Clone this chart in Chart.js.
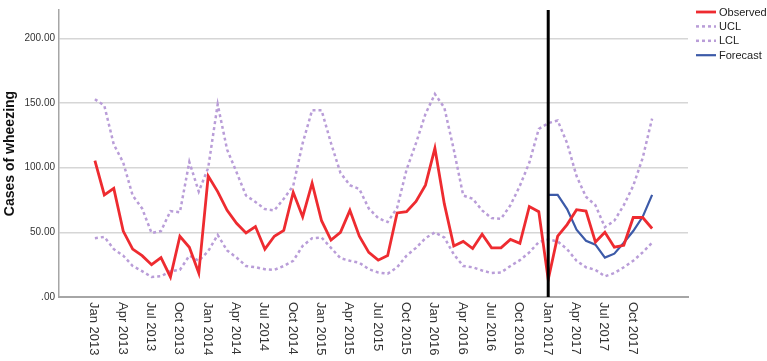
<!DOCTYPE html>
<html>
<head>
<meta charset="utf-8">
<script src="https://cdn.jsdelivr.net/npm/chart.js@4/dist/chart.umd.min.js"></script>
<style>
  html, body { margin: 0; padding: 0; background: #fff; }
  #wrap { width: 767px; height: 361px; position: relative; }
</style>
</head>
<body>
<div id="wrap"><canvas id="grafica"></canvas></div>
<script>
// months Jan 2013 .. Dec 2017 (index 0..59)
const months = ['Jan','Feb','Mar','Apr','May','Jun','Jul','Aug','Sep','Oct','Nov','Dec'];
const startYear = 2013;
const tickEvery = 3;
const cutover = 48; // Jan 2017

const observed = [105.5, 79, 84, 51, 37, 32, 25, 30.5, 15.5, 47, 38.5, 18.5,
  93.5, 81.5, 67, 57, 49.5, 54.5, 37, 47, 51.5, 81, 62, 88,
  59, 44, 50, 67, 47, 34.5, 28.5, 32, 65, 66, 74, 86.5,
  115, 72, 39.5, 43, 37.5, 48.5, 38, 38, 44.5, 41.5, 70, 66,
  13.5, 47, 56, 67.5, 66.5, 42.5, 50, 38.5, 40, 61.5, 61.5, 53];

const ucl = [153, 148, 118, 104, 78.5, 68.5, 49.5, 51, 66.5, 65.5, 104.5, 81.5,
  100, 149, 114, 96.5, 78.5, 73.5, 68, 67, 76, 86, 119, 144.5,
  144.5, 119, 96, 86.5, 83.5, 68.5, 61, 58, 69, 98.5, 119, 141.5,
  157, 146.5, 114, 78.5, 76, 67, 61, 60.5, 71, 86, 104, 130,
  134.5, 136.5, 119, 93.5, 77.5, 71, 54, 59, 71, 86, 107.5, 138];

const lcl = [45.5, 46.5, 37, 32, 24, 20, 15.5, 16, 20, 21, 32, 28,
  35.5, 48, 36, 30.5, 24, 23, 21.5, 21, 24, 28, 39.5, 45.5,
  46, 38, 30, 28, 26.5, 21.5, 19, 18, 23, 32, 38, 45.5,
  50, 46, 33, 24, 23, 20.5, 18.5, 19, 24, 28.5, 34.5, 42.5,
  44.5, 43, 37, 28, 23, 21, 16, 18.5, 23, 28, 34.5, 42];

const forecast = [79, 79, 68, 52, 43.5, 40.5, 30.5, 33.5, 42, 51, 62, 79];

const yTicks = [0, 50, 100, 150, 200];

const toPoints = (arr, offset) => arr.map((v, i) => ({ x: i + offset, y: v }));
const monthLabel = i => months[i % 12] + ' ' + (startYear + Math.floor(i / 12));

const grafica = document.getElementById('grafica');

const dotted = {
  borderColor: '#b99dd8',
  borderWidth: 2.5,
  borderDash: [3, 3],
  pointRadius: 0,
  tension: 0,
  fill: false
};

// rotated month labels, cutover line and legend
const extras = {
  id: 'extras',
  afterDatasetsDraw(chart) {
    const { ctx, chartArea, scales: { x } } = chart;
    const px = x.getPixelForValue(cutover);
    ctx.save();
    ctx.strokeStyle = '#000';
    ctx.lineWidth = 3;
    ctx.beginPath();
    ctx.moveTo(px, chartArea.top);
    ctx.lineTo(px, chartArea.bottom);
    ctx.stroke();
    ctx.restore();
  },
  afterDraw(chart) {
    const { ctx, chartArea, scales: { x } } = chart;
    ctx.save();
    ctx.fillStyle = '#333';
    ctx.font = '13px "Liberation Sans", Arial, sans-serif';
    ctx.textAlign = 'left';
    ctx.textBaseline = 'middle';
    for (let i = 0; i < observed.length; i += tickEvery) {
      const px = x.getPixelForValue(i) - 1;
      ctx.save();
      ctx.translate(px, chartArea.bottom + 5);
      ctx.rotate(Math.PI / 2);
      ctx.fillText(monthLabel(i), 0, 0);
      ctx.restore();
    }
    // legend
    ctx.font = '11px "Liberation Sans", Arial, sans-serif';
    ctx.fillStyle = '#222';
    const lx = chartArea.right + 8;
    chart.data.datasets.forEach((ds, k) => {
      const ly = 12 + k * 14.4;
      ctx.save();
      ctx.strokeStyle = ds.borderColor;
      ctx.lineWidth = ds.borderWidth;
      ctx.setLineDash(ds.borderDash || []);
      ctx.beginPath();
      ctx.moveTo(lx, ly);
      ctx.lineTo(lx + 20, ly);
      ctx.stroke();
      ctx.restore();
      ctx.fillText(ds.label, lx + 23, ly + 0.5);
    });
    ctx.restore();
  }
};

new Chart(grafica, {
  type: 'line',
  data: {
    datasets: [
      {
        label: 'Observed',
        data: toPoints(observed, 0),
        borderColor: '#ee2b30',
        borderWidth: 2.8,
        pointRadius: 0,
        tension: 0
      },
      Object.assign({ label: 'UCL', data: toPoints(ucl, 0) }, dotted),
      Object.assign({ label: 'LCL', data: toPoints(lcl, 0) }, dotted),
      {
        label: 'Forecast',
        data: toPoints(forecast, cutover),
        borderColor: '#3c5aa8',
        borderWidth: 2.2,
        pointRadius: 0,
        tension: 0
      }
    ]
  },
  options: {
    responsive: true,
    maintainAspectRatio: false,
    animation: false,
    layout: { padding: { top: 4, right: 79, bottom: 0, left: 0 } },
    scales: {
      x: {
        type: 'linear',
        min: -3.8,
        max: 62.8,
        grid: { display: false },
        border: { color: '#a6a6a6', width: 2 },
        ticks: { display: false },
        afterFit(scale) { scale.height = 64; }
      },
      y: {
        min: 0,
        max: 222,
        afterBuildTicks(scale) { scale.ticks = yTicks.map(v => ({ value: v })); },
        grid: { color: '#d6d6d6', lineWidth: 1.5, drawTicks: false },
        border: { color: '#a6a6a6', width: 1.5 },
        ticks: {
          padding: 4,
          color: '#333',
          font: { family: '"Liberation Sans", Arial, sans-serif', size: 10 },
          callback: v => (v === 0 ? '.00' : v.toFixed(2))
        },
        title: {
          display: true,
          text: 'Cases of wheezing',
          color: '#111',
          padding: { top: 2, bottom: 0 },
          font: { family: '"Liberation Sans", Arial, sans-serif', size: 14, weight: 'bold' }
        },
        afterFit(scale) { scale.width = 59; }
      }
    },
    plugins: {
      legend: { display: false },
      tooltip: { enabled: false }
    }
  },
  plugins: [extras]
});
</script>
</body>
</html>
